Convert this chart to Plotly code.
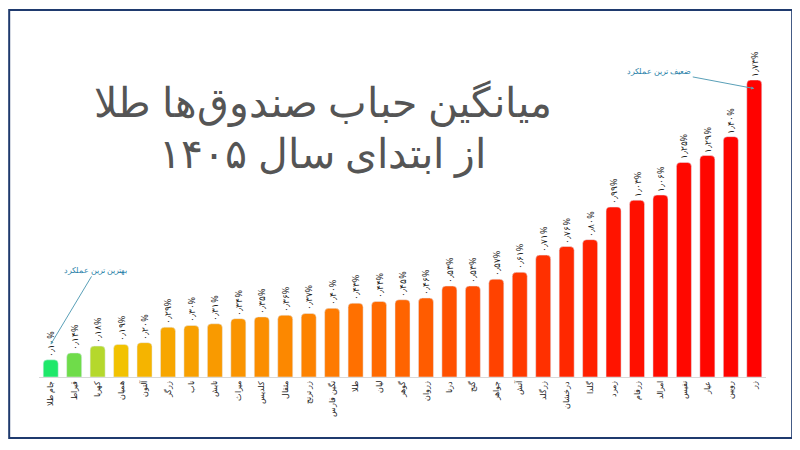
import plotly.graph_objects as go

funds = ["جام طلا","قیراط","کهربا","همیان","آلتون","زرگر","ناب","تابش","میراث","کلدیس","مثقال","زر ترنج","نگین فارس","طلا","لیان","گوهر","زروان","درنا","گنج","جواهر","آتش","زرگلد","درخشان","گلدا","زمرد","زرفام","امرالد","نفیس","عیار","رویین","زر"]
values = [0.10,0.14,0.18,0.19,0.20,0.29,0.30,0.31,0.34,0.35,0.36,0.37,0.40,0.43,0.44,0.45,0.46,0.53,0.53,0.57,0.61,0.71,0.76,0.80,0.99,1.03,1.06,1.25,1.29,1.40,1.73]
colors = ["#1ee86a","#6fdc4a","#b5d82c","#f2c200","#f5b400","#f7a600","#f8a000","#f99a00","#fa9400","#fb8e00","#fc8800","#fd8200","#fe7a00","#ff7000","#ff6a00","#ff6400","#ff5c00","#ff5000","#ff4a00","#ff4200","#ff3a00","#ff3000","#ff2800","#ff2000","#ff1400","#ff1000","#ff0c00","#ff0800","#ff0600","#ff0400","#ff0200"]

fa = str.maketrans("0123456789.", "۰۱۲۳۴۵۶۷۸۹٫")
labels = [(f"{v:.2f}".translate(fa)) + "%" for v in values]

fig = go.Figure(go.Bar(
    x=funds, y=values, marker=dict(color=colors, cornerradius=4),
    width=0.64, text=labels, textposition="outside", textangle=-90, constraintext="none",
    textfont=dict(size=9, color="#222", family="Noto Sans"), cliponaxis=False))

fig.update_layout(
    width=800, height=450, paper_bgcolor="white", plot_bgcolor="white",
    margin=dict(l=31, r=42, t=72, b=81), showlegend=False, bargap=0.35,
    uniformtext=dict(minsize=9, mode="show"),
    xaxis=dict(tickangle=-90, tickfont=dict(size=8, color="#222", family="Noto Sans"),
               showline=True, linecolor="#d8d8d8", ticks="", automargin=False),
    yaxis=dict(visible=False, range=[0, 1.73], automargin=False),
    shapes=[dict(type="rect", xref="paper", yref="paper", x0=-0.041, x1=1.036, y0=-0.205, y1=1.236,
                 line=dict(color="#1f3a6e", width=2))],
    annotations=[
        dict(x=0.39, y=1.03, xref="paper", yref="paper", showarrow=False,
             text="میانگین حباب صندوق‌ها طلا", font=dict(size=41, color="#555", family="Noto Sans")),
        dict(x=0.39, y=0.86, xref="paper", yref="paper", showarrow=False,
             text="از ابتدای سال ۱۴۰۵", font=dict(size=41, color="#555", family="Noto Sans")),
        dict(x=funds[0], y=0.19, ax=45, ay=-75, text="بهترین ترین عملکرد", showarrow=True,
             arrowhead=2, arrowsize=0.6, arrowcolor="#5aa0b8", arrowwidth=1,
             font=dict(size=8, color="#2a7fa8", family="Noto Sans")),
        dict(x=funds[-1], y=1.68, ax=-95, ay=-18, text="ضعیف ترین عملکرد", showarrow=True,
             arrowhead=2, arrowsize=0.6, arrowcolor="#5aa0b8", arrowwidth=1,
             font=dict(size=8, color="#2a7fa8", family="Noto Sans")),
    ])
fig.write_html("out.html")
